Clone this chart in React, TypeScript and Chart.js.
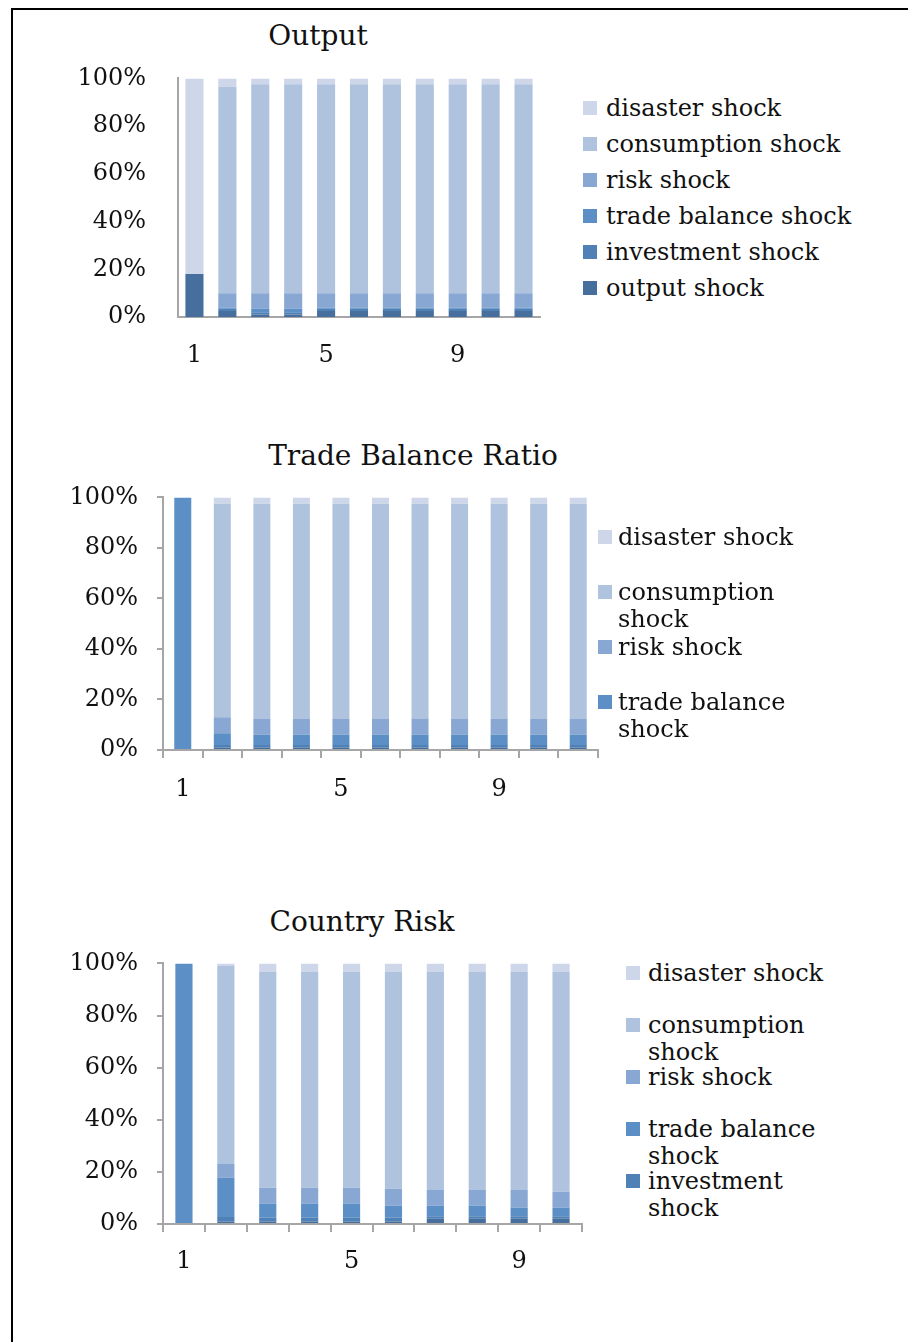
import React, { useEffect, useRef } from "react";
import { Chart, registerables } from "chart.js";

Chart.register(...registerables);
Chart.defaults.font.family = "'DejaVu Serif', serif";
Chart.defaults.color = "#111";

// ---- series (bottom to top of each stack) ----
const SERIES = [
  "output shock",
  "investment shock",
  "trade balance shock",
  "risk shock",
  "consumption shock",
  "disaster shock",
];
const COLORS = ["#466f9e", "#4f80b6", "#5b8fc5", "#88a7d2", "#b0c3de", "#cdd7e9"];

const Y_TICKS = [0, 20, 40, 60, 80, 100];

// ---- Output (11 periods) ----
const OUT_PERIODS = ["1", "2", "3", "4", "5", "6", "7", "8", "9", "10", "11"];
const OUT_OUTPUT = [18, 2.5, 1, 1, 2.5, 2.5, 2.5, 2.5, 2.5, 2.5, 2.5];
const OUT_INVEST = [0, 1, 1, 1, 1, 1, 1, 1, 1, 1, 1];
const OUT_TRADE = [0, 0.5, 1.5, 1.5, 0.5, 0.5, 0.5, 0.5, 0.5, 0.5, 0.5];
const OUT_RISK = [0, 6, 6.5, 6.5, 6, 6, 6, 6, 6, 6, 6];
const OUT_CONS = [0, 86.5, 87.5, 87.5, 87.5, 87.5, 87.5, 87.5, 87.5, 87.5, 87.5];
const OUT_DISASTER = [82, 3.5, 2.5, 2.5, 2.5, 2.5, 2.5, 2.5, 2.5, 2.5, 2.5];

// ---- Trade Balance Ratio (11 periods) ----
const TB_PERIODS = ["1", "2", "3", "4", "5", "6", "7", "8", "9", "10", "11"];
const TB_OUTPUT = [0, 1, 1, 1, 1, 1, 1, 1, 1, 1, 1];
const TB_INVEST = [0, 1, 1, 1, 1, 1, 1, 1, 1, 1, 1];
const TB_TRADE = [100, 4.6, 4, 4, 4, 4, 4, 4, 4, 4, 4];
const TB_RISK = [0, 6.4, 6.3, 6.3, 6.3, 6.3, 6.3, 6.3, 6.3, 6.3, 6.3];
const TB_CONS = [0, 84.5, 85.2, 85.2, 85.2, 85.2, 85.2, 85.2, 85.2, 85.2, 85.2];
const TB_DISASTER = [0, 2.5, 2.5, 2.5, 2.5, 2.5, 2.5, 2.5, 2.5, 2.5, 2.5];

// ---- Country Risk (10 periods) ----
const CR_PERIODS = ["1", "2", "3", "4", "5", "6", "7", "8", "9", "10"];
const CR_OUTPUT = [0, 1, 1, 1, 1, 1, 2, 2, 2, 2];
const CR_INVEST = [0, 1.7, 1.4, 1.4, 1.4, 1.4, 1, 1, 1, 1];
const CR_TRADE = [100, 15, 5.5, 5.5, 5.5, 4.6, 4, 4, 3.2, 3.2];
const CR_RISK = [0, 5.3, 6, 6, 6, 6.5, 6, 6, 6.8, 6.2];
const CR_CONS = [0, 76, 82.8, 82.8, 82.8, 83.2, 83.7, 83.7, 83.7, 84.3];
const CR_DISASTER = [0, 1, 3.3, 3.3, 3.3, 3.3, 3.3, 3.3, 3.3, 3.3];

type Box = {
  left: number;
  top: number;
  width: number;
  height: number;
  yAxisW: number;
  xAxisH: number;
  padRight: number;
  xLabelPad: number;
};

type LegendSpec = {
  squareLeft: number;
  textLeft: number;
  firstCenter: number;
  spacing: number;
  count: number; // how many entries from the top of the stack
  wrap: boolean;
};

type Props = {
  title: string;
  titleCx: number;
  titleCy: number;
  labels: string[];
  values: number[][];
  box: Box;
  withTicks: boolean;
  barPct: number;
  legend: LegendSpec;
};

const AXIS_GRAY = "#a6a6a6";
const TEXT = "#111";
const FONT = "'DejaVu Serif', serif";

function StackChart({ labels, values, box, withTicks, barPct }: Props) {
  const ref = useRef<HTMLCanvasElement | null>(null);
  useEffect(() => {
    if (!ref.current) return;
    const chart = new Chart(ref.current, {
      type: "bar",
      data: {
        labels,
        datasets: SERIES.map((name, i) => ({
          label: name,
          data: values[i],
          backgroundColor: COLORS[i],
          borderWidth: 0,
          stack: "s",
          categoryPercentage: 1,
          barPercentage: barPct,
        })),
      },
      options: {
        responsive: false,
        maintainAspectRatio: false,
        animation: false,
        layout: { padding: { left: 0, top: 0, right: box.padRight, bottom: 0 } },
        plugins: {
          legend: { display: false },
          tooltip: { enabled: false },
          title: { display: false },
        },
        scales: {
          x: {
            stacked: true,
            offset: true,
            grid: {
              display: withTicks,
              offset: true,
              drawOnChartArea: false,
              drawTicks: true,
              tickLength: 8,
              color: AXIS_GRAY,
              lineWidth: 2,
            },
            border: { display: true, color: AXIS_GRAY, width: 2 },
            ticks: {
              autoSkip: false,
              maxRotation: 0,
              padding: box.xLabelPad,
              font: { size: 24 },
              color: TEXT,
              callback: (_v: any, idx: number) => (idx % 4 === 0 ? labels[idx] : ""),
            },
            afterFit: (s: any) => {
              s.height = box.xAxisH;
            },
          },
          y: {
            stacked: true,
            min: 0,
            max: 100,
            afterBuildTicks: (s: any) => {
              s.ticks = Y_TICKS.map((v) => ({ value: v }));
            },
            grid: {
              display: withTicks,
              drawOnChartArea: false,
              drawTicks: true,
              tickLength: 6,
              color: AXIS_GRAY,
              lineWidth: 2,
            },
            border: { display: true, color: AXIS_GRAY, width: 2 },
            ticks: {
              padding: withTicks ? 19 : 26,
              font: { size: 24 },
              color: TEXT,
              callback: (v: any) => v + "%",
            },
            afterFit: (s: any) => {
              s.width = box.yAxisW;
            },
          },
        },
      },
    });
    return () => chart.destroy();
  }, []);
  return (
    <canvas
      ref={ref}
      width={box.width}
      height={box.height}
      style={{
        position: "absolute",
        left: box.left,
        top: box.top,
        width: box.width,
        height: box.height,
      }}
    />
  );
}

function Title({ text, cx, cy }: { text: string; cx: number; cy: number }) {
  return (
    <div
      style={{
        position: "absolute",
        left: cx - 300,
        width: 600,
        top: cy - 17,
        height: 34,
        lineHeight: "34px",
        textAlign: "center",
        fontFamily: FONT,
        fontSize: 28,
        color: TEXT,
        whiteSpace: "nowrap",
      }}
    >
      {text}
    </div>
  );
}

function Legend({ spec }: { spec: LegendSpec }) {
  const LINE = 27;
  const order = SERIES.map((n, i) => i).reverse().slice(0, spec.count);
  return (
    <>
      {order.map((si, k) => {
        const name = SERIES[si];
        const c = spec.firstCenter + k * spec.spacing;
        const lines =
          spec.wrap && name.length > 14 ? [name.replace(/ shock$/, ""), "shock"] : [name];
        return (
          <React.Fragment key={name}>
            <div
              style={{
                position: "absolute",
                left: spec.squareLeft,
                top: c - 7,
                width: 14,
                height: 14,
                background: COLORS[si],
              }}
            />
            <div
              style={{
                position: "absolute",
                left: spec.textLeft,
                top: c - LINE / 2,
                fontFamily: FONT,
                fontSize: 24,
                lineHeight: LINE + "px",
                color: TEXT,
                whiteSpace: "nowrap",
              }}
            >
              {lines.map((l, j) => (
                <div key={j}>{l}</div>
              ))}
            </div>
          </React.Fragment>
        );
      })}
    </>
  );
}

const CHARTS: Props[] = [
  {
    title: "Output",
    titleCx: 318,
    titleCy: 36,
    labels: OUT_PERIODS,
    values: [OUT_OUTPUT, OUT_INVEST, OUT_TRADE, OUT_RISK, OUT_CONS, OUT_DISASTER],
    box: { left: 60, top: 38, width: 500, height: 342, yAxisW: 118, xAxisH: 63, padRight: 20, xLabelPad: 16 },
    withTicks: false,
    barPct: 0.55,
    legend: { squareLeft: 583, textLeft: 606, firstCenter: 108, spacing: 36, count: 6, wrap: false },
  },
  {
    title: "Trade Balance Ratio",
    titleCx: 413,
    titleCy: 456,
    labels: TB_PERIODS,
    values: [TB_OUTPUT, TB_INVEST, TB_TRADE, TB_RISK, TB_CONS, TB_DISASTER],
    box: { left: 50, top: 464, width: 570, height: 356, yAxisW: 113, xAxisH: 70, padRight: 22, xLabelPad: 17 },
    withTicks: true,
    barPct: 0.43,
    legend: { squareLeft: 598, textLeft: 618, firstCenter: 537, spacing: 55, count: 4, wrap: true },
  },
  {
    title: "Country Risk",
    titleCx: 362,
    titleCy: 922,
    labels: CR_PERIODS,
    values: [CR_OUTPUT, CR_INVEST, CR_TRADE, CR_RISK, CR_CONS, CR_DISASTER],
    box: { left: 50, top: 930, width: 550, height: 360, yAxisW: 113, xAxisH: 66, padRight: 18, xLabelPad: 15 },
    withTicks: true,
    barPct: 0.41,
    legend: { squareLeft: 626, textLeft: 648, firstCenter: 973, spacing: 52, count: 5, wrap: true },
  },
];

export default function App() {
  return (
    <div style={{ position: "absolute", left: 0, top: 0, width: 908, height: 1342, overflow: "hidden", background: "#fff" }}>
      <div
        style={{
          position: "absolute",
          left: 11,
          top: 8,
          width: 897,
          height: 1334,
          borderLeft: "2px solid #000",
          borderTop: "2px solid #000",
          boxSizing: "border-box",
        }}
      />
      {CHARTS.map((c) => (
        <React.Fragment key={c.title}>
          <Title text={c.title} cx={c.titleCx} cy={c.titleCy} />
          <StackChart {...c} />
          <Legend spec={c.legend} />
        </React.Fragment>
      ))}
    </div>
  );
}
